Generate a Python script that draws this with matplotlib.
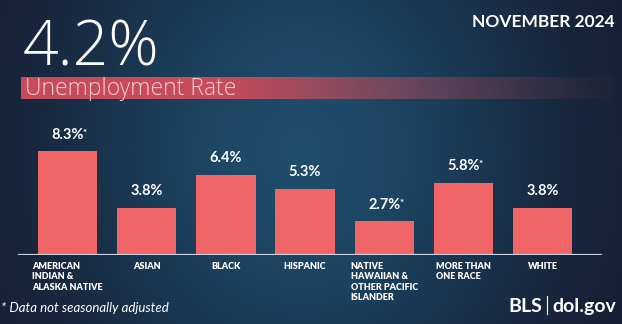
import matplotlib
matplotlib.use("Agg")
import matplotlib.pyplot as plt
import numpy as np

groups = ["AMERICAN\nINDIAN &\nALASKA NATIVE", "ASIAN", "BLACK", "HISPANIC",
          "NATIVE\nHAWAIIAN &\nOTHER PACIFIC\nISLANDER", "MORE THAN\nONE RACE", "WHITE"]
rates = [8.3, 3.8, 6.4, 5.3, 2.7, 5.8, 3.8]
not_adjusted = [True, False, False, False, True, True, False]
headline = "4.2%"
month = "NOVEMBER 2024"

W, H = 622, 324
fig = plt.figure(figsize=(W / 100, H / 100), dpi=100)

# background: navy with a blue glow around the upper middle
bg = fig.add_axes([0, 0, 1, 1])
bg.set_xlim(0, W)
bg.set_ylim(H, 0)
bg.axis("off")
yy, xx = np.mgrid[0:H, 0:W]
glow = np.exp(-(((xx - 300) / 240.0) ** 2 + ((yy - 150) / 280.0) ** 2))
dark = np.array([0.08, 0.10, 0.18])
blue = np.array([0.12, 0.30, 0.42])
img = dark[None, None, :] * (1 - glow[..., None]) + blue[None, None, :] * glow[..., None]
bg.imshow(img, extent=[0, W, H, 0], aspect="auto", zorder=0)

# red band behind the subtitle, fading out to the right
band = np.zeros((1, 300, 4))
fade = np.clip(1 - (np.linspace(0, 1, 300) - 0.35) / 0.65, 0, 1)
band[..., 0] = 0.78
band[..., 1] = 0.30
band[..., 2] = 0.36
band[..., 3] = 0.95 * fade ** 1.3 + 0.05
bg.imshow(band, extent=[21, 612, 99, 77], aspect="auto", zorder=1)

bg.text(23, 65, headline, color="white", fontsize=45, fontfamily="Open Sans",
        fontweight="light", ha="left", va="baseline", zorder=3)
bg.text(25, 95, "Unemployment Rate", color="#f6cdd2", fontsize=16.5,
        fontfamily="Open Sans", fontweight="light", ha="left", va="baseline", zorder=3)
bg.text(615, 27, month, color="white", fontsize=12.5, fontfamily="Lato",
        fontweight="bold", ha="right", va="baseline", zorder=3)
bg.text(1, 312, "* Data not seasonally adjusted", color="white", fontsize=9.5,
        fontfamily="Lato", fontstyle="italic", ha="left", va="baseline", zorder=3)
bg.text(542, 312, "BLS", color="white", fontsize=14, fontfamily="Lato",
        fontweight="bold", ha="right", va="baseline", zorder=3)
bg.plot([547, 547], [296, 314], color="white", lw=0.8, zorder=3)
bg.text(552, 312, "dol.gov", color="white", fontsize=14, fontfamily="Lato",
        fontweight="bold", ha="left", va="baseline", zorder=3)

# bar chart
ax = fig.add_axes([18 / W, (H - 255) / H, 584 / W, 125 / H])
ax.patch.set_alpha(0)
x = np.arange(len(rates))
ax.bar(x, rates, width=0.75, color="#f06565", zorder=2)
ax.axhline(0, color="#c9d2de", lw=1.6, zorder=3)
ax.set_xlim(-0.625, 6.75)
ax.set_ylim(0, 10)
ax.axis("off")

for xi, r, star in zip(x, rates, not_adjusted):
    ax.annotate(f"{r:.1f}%", (xi, r), xytext=(0, 7), textcoords="offset points",
                ha="center", va="bottom", color="white", fontsize=10.5,
                fontfamily="Lato", fontweight="bold")
    if star:
        ax.annotate("*", (xi, r), xytext=(11, 16), textcoords="offset points",
                    ha="left", va="top", color="white", fontsize=7,
                    fontfamily="Lato", fontweight="bold")

for xi, g in zip(x, groups):
    ax.annotate(g, (xi, 0), xytext=(0, -5), textcoords="offset points",
                ha="center", va="top", multialignment="left", color="white",
                fontsize=6.5, fontfamily="Lato", fontweight="heavy",
                linespacing=1.2)

fig.savefig("out.png", dpi=100)
